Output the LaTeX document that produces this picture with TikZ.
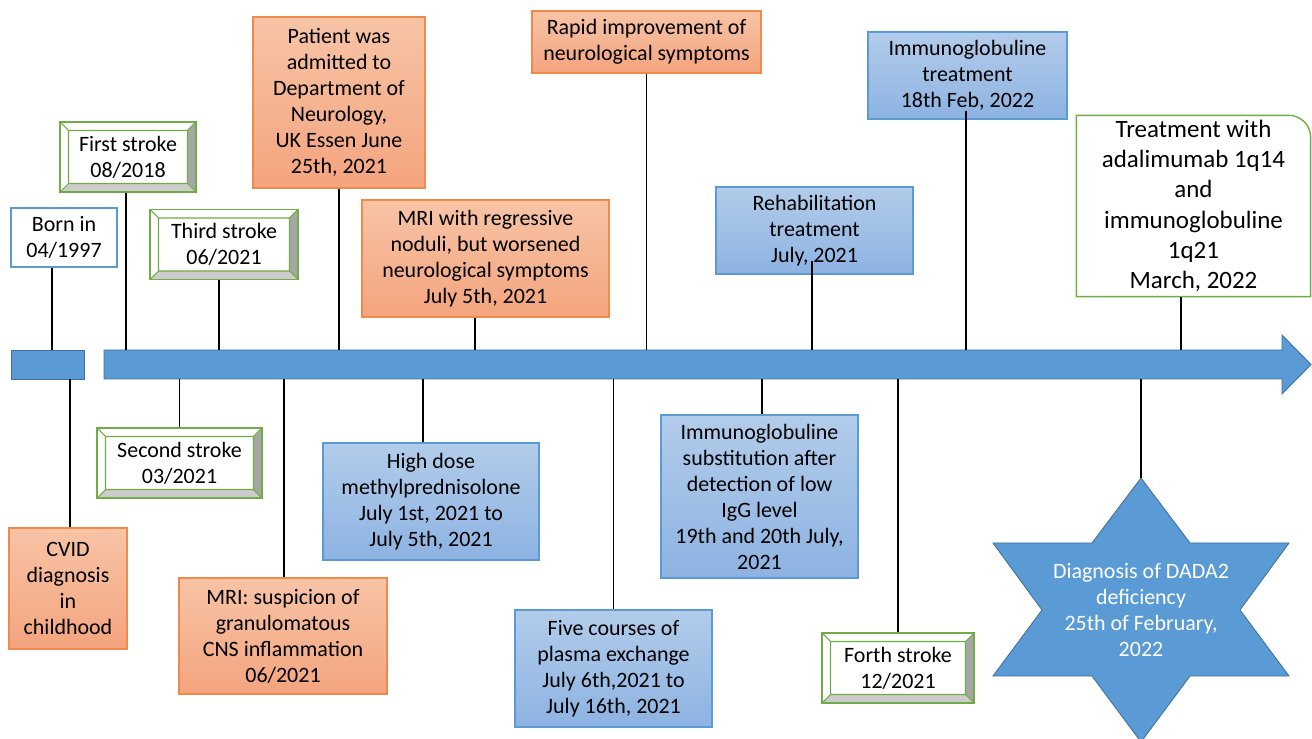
\documentclass[tikz,border=0pt]{standalone}
\usepackage{fontspec}
\setmainfont{Carlito}
\usepackage{xcolor}
\definecolor{AxisBlue}{HTML}{5B9BD5}
\definecolor{AxisEdge}{HTML}{41719C}
\definecolor{OrangeTop}{HTML}{F7C4A6}
\definecolor{OrangeBot}{HTML}{F4A47E}
\definecolor{OrangeEdge}{HTML}{F08A4B}
\definecolor{BlueTop}{HTML}{B2CCEA}
\definecolor{BlueBot}{HTML}{8DB3E2}
\definecolor{StrokeGreen}{HTML}{70AD47}
\newcommand{\bev}{0.17cm}

\begin{document}
\begin{tikzpicture}[x=0.02cm, y=-0.02cm, font=\fontsize{12.5}{14.8}\selectfont,
	stem/.style={black, line width=1.1pt},
	tlbox/.style={align=center, inner sep=2pt, line width=0.8pt},
	orangebox/.style={tlbox, draw=OrangeEdge, top color=OrangeTop, bottom color=OrangeBot},
	bluebox/.style={tlbox, draw=AxisBlue, top color=BlueTop, bottom color=BlueBot},
	bevelbox/.style={tlbox, draw=StrokeGreen, fill=white, minimum height=1.4cm, path picture={
		\path (path picture bounding box.south west) coordinate (bsw) (path picture bounding box.north east) coordinate (bne);
		\fill[gray!40] (bsw) -- (bsw -| bne) -- ([shift={(-\bev,\bev)}]bsw -| bne) -- ([shift={(\bev,\bev)}]bsw) -- cycle;
		\fill[gray!70] (bsw -| bne) -- (bne) -- ([shift={(-\bev,-\bev)}]bne) -- ([shift={(-\bev,\bev)}]bsw -| bne) -- cycle;
		\draw[StrokeGreen, line width=0.6pt] ([shift={(\bev,\bev)}]bsw) rectangle ([shift={(-\bev,-\bev)}]bne)
			(bsw) -- ++(\bev,\bev) (bne) -- ++(-\bev,-\bev) (bsw -| bne) -- ++(-\bev,\bev) (bsw |- bne) -- ++(\bev,-\bev);}}]
	\useasboundingbox (0,0) rectangle (1312,739);
	\filldraw[fill=AxisBlue, draw=AxisEdge, line width=0.5pt] (11,350) rectangle (84,379);
	\filldraw[fill=AxisBlue, draw=AxisEdge, line width=0.5pt] (104,350) -- (1282,350) -- (1282,335) -- (1311,364.5) -- (1282,394) -- (1282,379) -- (104,379) -- cycle;
	\coordinate (atop) at (0,350);
	\coordinate (abot) at (0,379);

	\node[tlbox, draw=AxisBlue, fill=white, minimum width=2.12cm, minimum height=1.18cm] (born) at (64,237.5) {Born in\\04/1997};
	\node[bevelbox, minimum width=2.72cm] (first) at (128,157) {First stroke\\08/2018};
	\node[bevelbox, minimum width=2.96cm] (third) at (224,244.5) {Third stroke\\06/2021};
	\node[orangebox, minimum width=3.44cm, minimum height=3.42cm] (admit) at (339,102.5) {Patient was\\admitted to\\Department of\\Neurology,\\UK Essen June\\25th, 2021};
	\node[orangebox, minimum width=4.94cm, minimum height=2.34cm] (mrireg) at (485.5,258.5) {MRI with regressive\\noduli, but worsened\\neurological symptoms\\July 5th, 2021};
	\node[orangebox, minimum width=4.58cm, minimum height=1.24cm] (rapid) at (646.5,42) {Rapid improvement of\\neurological symptoms};
	\node[bluebox, minimum width=3.94cm, minimum height=1.74cm] (rehab) at (814.5,230.5) {Rehabilitation\\treatment\\July, 2021};
	\node[bluebox, minimum width=3.98cm, minimum height=1.74cm] (igtreat) at (967.5,75.5) {Immunoglobuline\\treatment\\18th Feb, 2022};
	\node[tlbox, fill=white, minimum width=4.66cm, minimum height=3.6cm, font=\fontsize{14.2}{17.2}\selectfont] (adal) at (1193.5,206) {Treatment with\\adalimumab 1q14\\and\\immunoglobuline\\1q21\\March, 2022};
	\draw[StrokeGreen, line width=0.8pt] (adal.north west) -- ([xshift=-0.44cm]adal.north east) arc[start angle=90, end angle=0, radius=0.44cm] -- (adal.south east) -- (adal.south west) -- cycle;

	\node[orangebox, minimum width=2.36cm, minimum height=2.42cm] (cvid) at (68,588.5) {CVID\\diagnosis\\in\\childhood};
	\node[bevelbox, minimum width=3.3cm] (second) at (179.5,463) {Second stroke\\03/2021};
	\node[orangebox, minimum width=4.16cm, minimum height=2.32cm] (mrisusp) at (283,636) {MRI: suspicion of\\granulomatous\\CNS inflammation\\06/2021};
	\node[bluebox, minimum width=4.32cm, minimum height=2.34cm] (highdose) at (431,501.5) {High dose\\methylprednisolone\\July 1st, 2021 to\\July 5th, 2021};
	\node[bluebox, minimum width=3.94cm, minimum height=2.34cm] (plasma) at (613.5,668.5) {Five courses of\\plasma exchange\\July 6th,2021 to\\July 16th, 2021};
	\node[bluebox, minimum width=3.94cm, minimum height=3.26cm] (igsubst) at (759.5,496.5) {Immunoglobuline\\substitution after\\detection of low\\IgG level\\19th and 20th July,\\2021};
	\node[bevelbox, minimum width=3.04cm] (forth) at (898,668) {Forth stroke\\12/2021};
	\filldraw[fill=AxisBlue, draw=AxisEdge, line width=0.5pt] (1141,478) coordinate (startop) -- (1190,543) -- (1289,543) -- (1240,610) -- (1289,676) -- (1190,676) -- (1141,742) -- (1092,676) -- (993,676) -- (1042,610) -- (993,543) -- (1092,543) -- cycle;
	\node[text=white, align=center] (dada) at (1141,610) {Diagnosis of DADA2\\deficiency\\25th of February,\\2022};

	\foreach \n/\d/\e in {born/-.24/0, first/-.04/0, third/-.1/0, admit/0/0, mrireg/-.21/0, rapid/0/0, rehab/-.05/.28, igtreat/-.03/.18, adal/-.25/0}
		\draw[stem] ([shift={(\d cm,\e cm)}]\n.south) coordinate (s) -- (s |- atop);
	\foreach \n/\d in {cvid/.04, second/0, mrisusp/.02, highdose/-.16, plasma/0, igsubst/.05, forth/0}
		\draw[stem] ([xshift=\d cm]\n.north) coordinate (s) -- (s |- abot);
	\draw[stem] (startop) -- (startop |- abot);
\end{tikzpicture}
\end{document}
